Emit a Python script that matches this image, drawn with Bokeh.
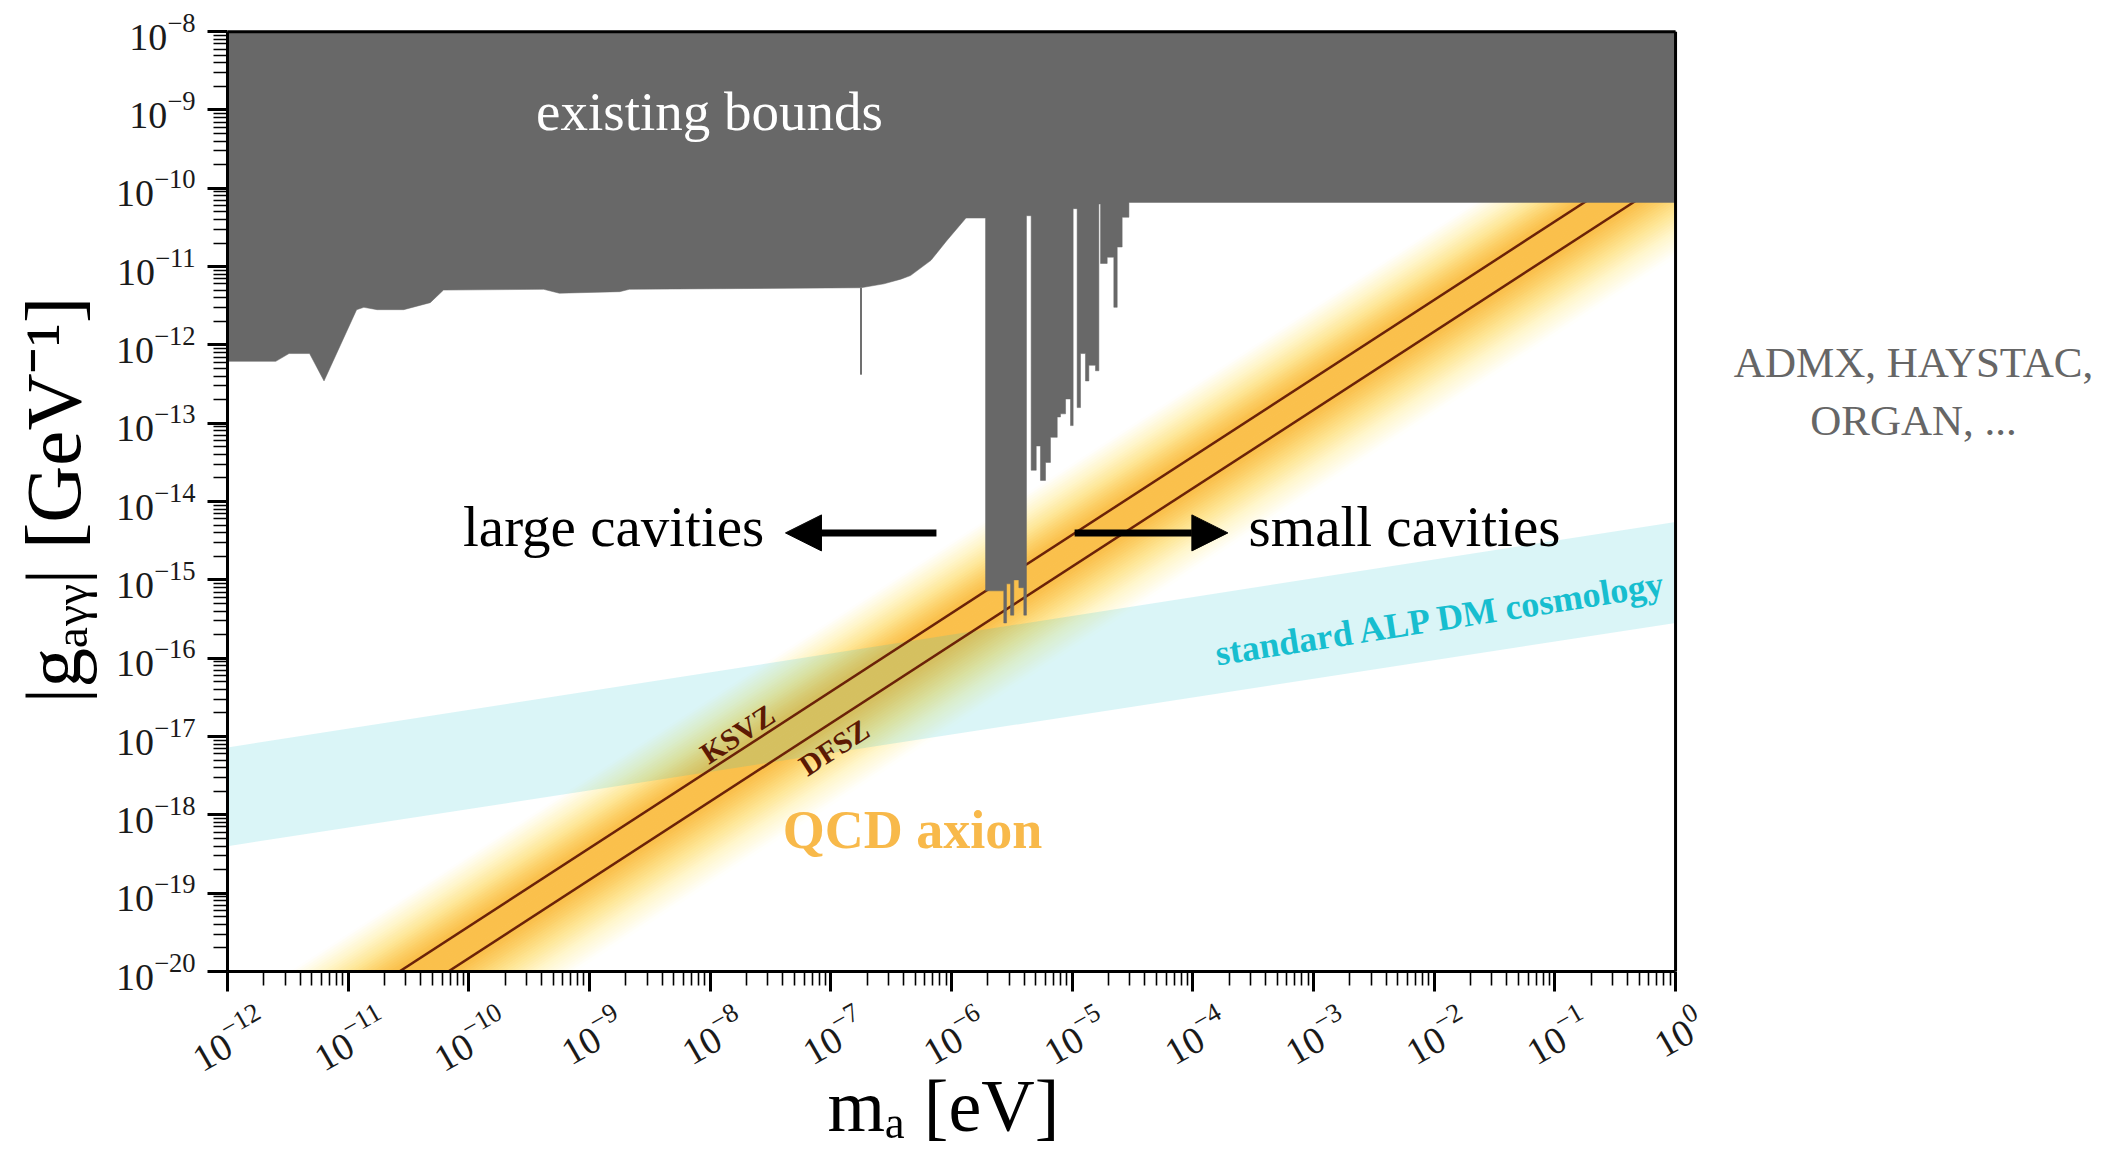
import numpy as np
from bokeh.plotting import figure
from bokeh.models import (FixedTicker, LogTickFormatter, LogAxis, Label, Arrow, NormalHead,
                          CustomJSTickFormatter, Title)
from bokeh.embed import file_html
from bokeh.resources import INLINE

# ---------------- data (log10 values) ----------------
x_decades = list(range(-12, 1))          # m_a ticks: 1e-12 ... 1 eV
y_decades = list(range(-20, -7))         # g ticks: 1e-20 ... 1e-8

# lower edge of existing bounds at low masses (log10 m, log10 g)
bound_logm = [-12.0, -11.60, -11.49, -11.32, -11.20, -10.93, -10.87, -10.76, -10.54,
              -10.32, -10.21, -9.38, -9.25, -8.75, -8.67, -6.75, -6.56, -6.42, -6.34,
              -6.17, -6.04, -5.88, -5.718]
bound_logg = [-12.21, -12.21, -12.11, -12.11, -12.46, -11.55, -11.52, -11.55, -11.55,
              -11.46, -11.30, -11.29, -11.34, -11.32, -11.29, -11.27, -11.22, -11.16, -11.115,
              -10.92, -10.67, -10.38, -10.38]

# haloscope exclusions (ADMX, HAYSTAC, ORGAN, ...): strip edges in log10 m and lower log10 g
halo_logm_edges = [-5.718, -5.567, -5.544, -5.511, -5.484, -5.442, -5.401, -5.379, -5.340,
                   -5.298, -5.263, -5.221, -5.180, -5.124, -5.097, -5.055, -5.014, -4.992,
                   -4.959, -4.931, -4.890, -4.862, -4.807, -4.779, -4.765, -4.710, -4.655,
                   -4.627, -4.586, -4.530]
halo_logg = [-15.14, -15.55, -15.05, -15.45, -15.00, -15.10, -15.45, -10.35, -13.60,
             -13.29, -13.73, -13.50, -13.18, -12.92, -12.88, -12.69, -13.03, -10.26,
             -12.80, -12.11, -12.46, -12.26, -12.33, -10.20, -10.96, -10.88, -11.52,
             -10.75, -10.37]

cast_g = 6.6e-11                          # helioscope limit (flat)
spike_m = 10 ** -6.75                     # isolated narrow exclusion
spike_g = [10 ** -11.27, 10 ** -12.38]

# QCD axion model lines (g at m = 1e-12 eV and m = 1 eV)
line_m = [1e-12, 1.0]
ksvz_g = [10 ** -21.425, 10 ** -9.425]
dfsz_g = [10 ** -21.83, 10 ** -9.83]

# standard ALP DM cosmology band
alp_m = [1e-12, 1.0]
alp_g_hi = [10 ** -17.14, 10 ** -14.26]
alp_g_lo = [10 ** -18.40, 10 ** -15.55]

# ---------------- figure ----------------
XMAX = 10 ** 3.621      # frame runs on to the right edge (room for the side note)
YMAX = 10 ** -7.96
p = figure(width=2112, height=1153, x_axis_type="log", y_axis_type="log",
           x_range=(1e-12, XMAX), y_range=(1e-20, YMAX),
           output_backend="svg", toolbar_location=None,
           min_border_left=227, min_border_right=0, min_border_top=28, min_border_bottom=182)
p.grid.visible = False
p.outline_line_color = None
p.background_fill_color = "white"
p.border_fill_color = "white"

# QCD band gradient (style: colour stops vs. offset log10(g/m))
stop_o = [-8.52, -8.78, -9.02, -9.22, -9.38, -9.88, -10.06, -10.30, -10.56, -10.88]
stop_c = [(255, 255, 255), (255, 246, 204), (254, 230, 150), (252, 208, 104), (250, 192, 76),
          (250, 192, 76), (252, 208, 104), (254, 230, 150), (255, 246, 204), (255, 255, 255)]
edges = np.linspace(-8.52, -10.88, 70)
xs, ys, cols = [], [], []
so = np.array(stop_o[::-1]); sc = np.array(stop_c[::-1], dtype=float)
for a, b in zip(edges[:-1], edges[1:]):
    mid = 0.5 * (a + b)
    c = [np.interp(mid, so, sc[:, k]) for k in range(3)]
    cols.append("#%02x%02x%02x" % tuple(int(round(v)) for v in c))
    top, bot = a + 0.006, b - 0.006
    xs.append([1e-12, 1.0, 1.0, 1e-12])
    ys.append([10 ** (top - 12), 10 ** top, 10 ** bot, 10 ** (bot - 12)])
p.patches(xs, ys, fill_color=cols, line_color=None)

# ALP DM band
p.varea(x=alp_m, y1=alp_g_lo, y2=alp_g_hi, fill_color="#17becf", fill_alpha=0.16)

# model lines
p.line(line_m, ksvz_g, line_color="#6b2208", line_width=2.5)
p.line(line_m, dfsz_g, line_color="#6b2208", line_width=2.5)

# existing bounds polygon
gx = [1e-12] + [10 ** v for v in bound_logm]
gy = [1e-8] + [10 ** v for v in bound_logg]
for i, g in enumerate(halo_logg):
    gx += [10 ** halo_logm_edges[i], 10 ** halo_logm_edges[i + 1]]
    gy += [10 ** g, 10 ** g]
gx += [10 ** halo_logm_edges[-1], 1.0, 1.0]
gy += [cast_g, cast_g, 1e-8]
gray = "#686868"
p.patch(gx, gy, fill_color=gray, line_color=gray, line_width=0.5)
p.segment(x0=[spike_m], y0=[spike_g[0]], x1=[spike_m], y1=[spike_g[1]], line_color="#707070", line_width=2)

# frame: top and right edges (left/bottom are the axis lines)
p.line([1e-12, 1.0], [1e-8, 1e-8], line_color="black", line_width=3)
p.line([1.0, 1.0], [1e-20, 1e-8], line_color="black", line_width=3)

# ---------------- axes ----------------
F = "Liberation Serif"
xmin = [k * 10.0 ** d for d in x_decades[:-1] for k in range(2, 10)]
ymin = [k * 10.0 ** d for d in y_decades[:-1] for k in range(2, 10)]
xax = p.xaxis[0]
yax = p.yaxis[0]
xax.ticker = FixedTicker(ticks=[10.0 ** d for d in x_decades], minor_ticks=xmin)
yax.ticker = FixedTicker(ticks=[10.0 ** d for d in y_decades], minor_ticks=ymin)
xax.bounds = (1e-12, 1.0)
yax.bounds = (1e-20, 1e-8)
for ax in (xax, yax):
    ax.major_tick_out = 20
    ax.major_tick_in = 0
    ax.minor_tick_out = 14
    ax.minor_tick_in = 0
    ax.major_tick_line_width = 3
    ax.minor_tick_line_width = 1.6
    ax.axis_line_width = 3
    ax.major_label_text_font = F
    ax.major_label_text_color = "#1a1a1a"
    ax.axis_label_text_font = F
    ax.axis_label_text_font_style = "normal"
    ax.axis_label_text_color = "black"
yax.major_label_text_font_size = "38px"
yax.major_label_standoff = 12
yax.axis_label = "|g\u2090\u1d67\u1d67| [GeV\u207b\u00b9]"
yax.axis_label_text_font_size = "79px"
yax.axis_label_standoff = 16
# tick marks only on the main x axis (its labels are drawn by the axis below)
xax.formatter = CustomJSTickFormatter(code="return ''")
xax.major_label_text_font_size = "2px"
xax.major_label_standoff = 0

# rotated decade labels, centred under their ticks
def shift(k):
    return 0.29 if k <= -10 else (0.25 if k < 0 else 0.20)
lab_axis = LogAxis(ticker=FixedTicker(ticks=[10.0 ** (k + shift(k)) for k in x_decades], minor_ticks=[]),
                   formatter=LogTickFormatter(), axis_line_color=None,
                   bounds=(10 ** -12.21, 10 ** 0.21),
                   major_tick_out=0, major_tick_in=0, minor_tick_out=0, minor_tick_in=0,
                   major_label_orientation=0.52, major_label_standoff=26,
                   major_label_text_font=F, major_label_text_font_size="38px",
                   major_label_text_color="#1a1a1a")
p.add_layout(lab_axis, "below")

# x-axis title, centred under the plotted decades
p.add_layout(Title(text="m\u2090 [eV]", align="left", offset=600, standoff=-54,
                   vertical_align="top",
                   text_font=F, text_font_size="74px", text_font_style="normal",
                   text_color="black"), "below")

# ---------------- annotations ----------------
def lab(x, y, text, size, color, style="normal", angle=0.0, baseline="alphabetic", align="center"):
    p.add_layout(Label(x=x, y=y, text=text, text_font=F, text_font_size=size, text_color=color,
                       text_font_style=style, angle=angle, text_align=align, text_baseline=baseline))

up = 0.22   # alphabetic-baseline correction (decades)
lab(10 ** -8.006, 10 ** (-9.238 + up), "existing bounds", "55px", "white")
lab(10 ** -8.80, 10 ** (-14.536 + up), "large cavities", "57px", "black")
lab(10 ** -2.246, 10 ** (-14.536 + up), "small cavities", "57px", "black")
lab(10 ** -6.323, 10 ** (-18.418 + up), "QCD axion", "54px", "#f8b94a", style="bold")
lab(10 ** -7.776, 10 ** -16.966, "KSVZ", "30px", "#5c1a04", style="bold", angle=0.575, baseline="middle")
lab(10 ** -6.975, 10 ** -17.137, "DFSZ", "30px", "#5c1a04", style="bold", angle=0.575, baseline="middle")
lab(10 ** -1.94, 10 ** -15.49, "standard ALP DM cosmology", "36px", "#17becf", style="bold",
    angle=0.155, baseline="middle")
lab(10 ** 1.972, 10 ** (-12.417 + 0.19), "ADMX, HAYSTAC,", "43px", "#666666")
lab(10 ** 1.972, 10 ** (-13.158 + 0.19), "ORGAN, ...", "43px", "#666666")

arrow_y = 10 ** -14.40
p.add_layout(Arrow(end=NormalHead(size=36, fill_color="black", line_color="black"),
                   x_start=10 ** -6.125, y_start=arrow_y, x_end=10 ** -7.376, y_end=arrow_y,
                   line_width=7, line_color="black"))
p.add_layout(Arrow(end=NormalHead(size=36, fill_color="black", line_color="black"),
                   x_start=10 ** -4.98, y_start=arrow_y, x_end=10 ** -3.71, y_end=arrow_y,
                   line_width=7, line_color="black"))

open("out.html", "w").write(file_html(p, INLINE))
